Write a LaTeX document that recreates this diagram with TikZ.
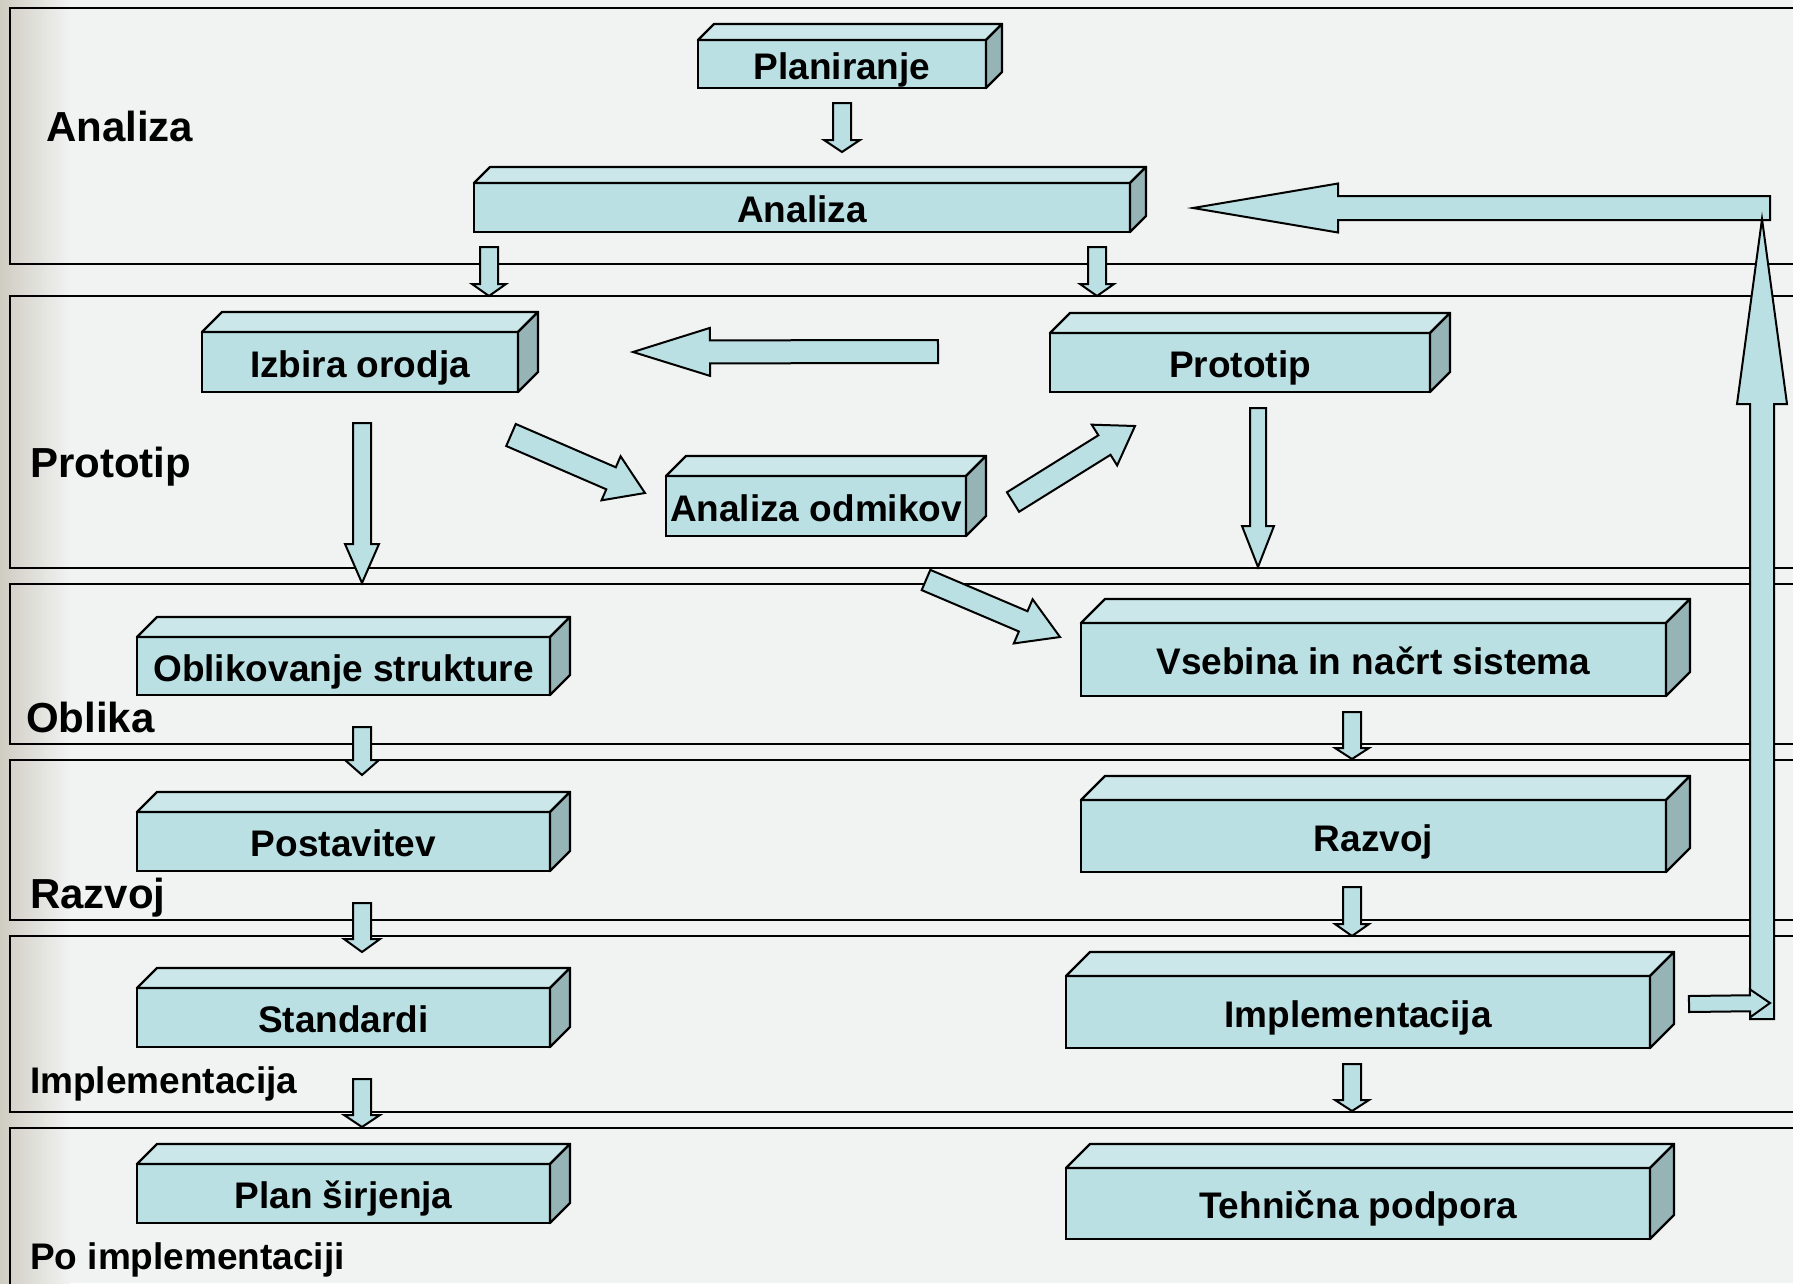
\documentclass[tikz,border=0pt]{standalone}
\usepackage{fontspec}
\setmainfont{Liberation Sans}
\usetikzlibrary{calc}

\definecolor{pagebg}{HTML}{F1F2F2}
\definecolor{stripbg}{HTML}{CFCCC2}
\definecolor{facefront}{HTML}{BAE0E3}
\definecolor{facetop}{HTML}{CBE7EA}
\definecolor{faceside}{HTML}{96B3B5}

\newcommand\boxfont{\fontsize{37}{44}\selectfont\bfseries}
\newcommand\lanefont{\fontsize{42}{50}\selectfont\bfseries}
\newcommand\subfont{\fontsize{37}{44}\selectfont\bfseries}

\tikzset{
  frontface/.style={draw=black, fill=facefront, line width=2.4pt, inner sep=0pt,
    outer sep=0pt, font=\boxfont, text=black, text height=30pt, text depth=0pt},
  topface/.style={draw=black, fill=facetop, line width=2.4pt, line join=round},
  sideface/.style={draw=black, fill=faceside, line width=2.4pt, line join=round},
  lane/.style={draw=black, line width=2.4pt},
  lanelabel/.style={anchor=base west, inner sep=0pt, font=\lanefont},
  sublabel/.style={anchor=base west, inner sep=0pt, font=\subfont},
  blockarrow/.style={draw=black, fill=facefront, line width=2pt, line join=miter},
}

% 3D box: name, centre x, centre y, width, height, depth, label
\newcommand\solidbox[7]{%
  \node[frontface, minimum width=#4pt, minimum height=#5pt] (#1) at (#2,#3) {#7};
  \filldraw[topface] (#1.north west) -- ++(#6,-#6) -- ($(#1.north east)+(#6,-#6)$)
    -- (#1.north east) -- cycle;
  \filldraw[sideface] (#1.north east) -- ($(#1.north east)+(#6,-#6)$)
    -- ($(#1.south east)+(#6,-#6)$) -- (#1.south east) -- cycle;
}

% block arrow: from, to, shaft half-width, head half-width, head length
\newcommand\blockarrow[5]{%
  \coordinate (hb) at ($(#2)!#5pt!(#1)$);
  \filldraw[blockarrow]
    ($(#1)!#3pt!90:(#2)$) -- ($(hb)!#3pt!90:(#2)$) -- ($(hb)!#4pt!90:(#2)$)
    -- (#2) -- ($(hb)!#4pt!-90:(#2)$) -- ($(hb)!#3pt!-90:(#2)$)
    -- ($(#1)!#3pt!-90:(#2)$) -- cycle;
}

\begin{document}
\begin{tikzpicture}[x=1pt, y=-1pt]
  \useasboundingbox (0,0) rectangle (1793,1283);
  \fill[pagebg] (0,0) rectangle (1793,1283);
  \shade[left color=stripbg, right color=pagebg] (0,0) rectangle (70,1283);

  % phase lanes
  \draw[lane] (10,8)    rectangle (1830,264);
  \draw[lane] (10,296)  rectangle (1830,568);
  \draw[lane] (10,584)  rectangle (1830,744);
  \draw[lane] (10,760)  rectangle (1830,920);
  \draw[lane] (10,936)  rectangle (1830,1112);
  \draw[lane] (10,1128) rectangle (1830,1330);

  % phase names
  \node[lanelabel] (lAnaliza)  at (46,141) {Analiza};
  \node[lanelabel] (lPrototip) at (30,477) {Prototip};
  \node[lanelabel] (lOblika)   at (26,732) {Oblika};
  \node[lanelabel] (lRazvoj)   at (30,908) {Razvoj};
  \node[sublabel]  (lImpl)     at (30,1093) {Implementacija};
  \node[sublabel]  (lPoImpl)   at (30,1269) {Po implementaciji};

  % activities
  \solidbox{plan}{842}{64}{288}{48}{16}{Planiranje}
  \solidbox{anal}{802}{207.5}{656}{49}{16}{Analiza}
  \solidbox{izbira}{360}{362}{316}{60}{20}{Izbira orodja}
  \solidbox{odmik}{816}{506}{300}{60}{20}{Analiza odmikov}
  \solidbox{proto}{1240}{362.5}{380}{59}{20}{Prototip}
  \solidbox{oblik}{343.5}{666}{413}{58}{20}{Oblikovanje strukture}
  \solidbox{vseb}{1373.5}{659.5}{585}{73}{24}{Vsebina in načrt sistema}
  \solidbox{postav}{343.5}{841.5}{413}{59}{20}{Postavitev}
  \solidbox{razvoj}{1373.5}{836}{585}{72}{24}{Razvoj}
  \solidbox{stand}{343.5}{1017.5}{413}{59}{20}{Standardi}
  \solidbox{impl}{1358}{1012}{584}{72}{24}{Implementacija}
  \solidbox{plansir}{343.5}{1193.5}{413}{59}{20}{Plan širjenja}
  \solidbox{tehn}{1358}{1203.5}{584}{71}{24}{Tehnična podpora}

  % arrow end points
  \coordinate (a1s) at (842,103);   \coordinate (a1t) at (842,152);
  \coordinate (a2s) at (489,247);   \coordinate (a2t) at (489,296);
  \coordinate (a3s) at (1097,247);  \coordinate (a3t) at (1097,296);
  \coordinate (a4s) at (362,423);   \coordinate (a4t) at (362,583);
  \coordinate (a5s) at (1258,408);  \coordinate (a5t) at (1258,567);
  \coordinate (a6s) at (362,727);   \coordinate (a6t) at (362,775);
  \coordinate (a7s) at (362,903);   \coordinate (a7t) at (362,952);
  \coordinate (a8s) at (362,1079);  \coordinate (a8t) at (362,1127);
  \coordinate (a9s) at (1352,712);  \coordinate (a9t) at (1352,759);
  \coordinate (a10s) at (1352,887); \coordinate (a10t) at (1352,936);
  \coordinate (a11s) at (1352,1064);\coordinate (a11t) at (1352,1111);
  \coordinate (a12s) at (938,351.5);\coordinate (a12t) at (633,352);
  \coordinate (a13s) at (511,435);  \coordinate (a13t) at (645,493);
  \coordinate (a14s) at (1013,502); \coordinate (a14t) at (1135,426);
  \coordinate (a15s) at (926,580);  \coordinate (a15t) at (1060,637);
  \coordinate (a16s) at (1689,1004);\coordinate (a16t) at (1770,1003);
  \coordinate (a17s) at (1762,1019);\coordinate (a17t) at (1762,219);
  \coordinate (a18s) at (1770,208); \coordinate (a18t) at (1193,208);

  % flow arrows
  \blockarrow{a1s}{a1t}{9}{18}{12}
  \blockarrow{a2s}{a2t}{9}{17}{12}
  \blockarrow{a3s}{a3t}{9}{17}{12}
  \blockarrow{a4s}{a4t}{9}{17}{39}
  \blockarrow{a5s}{a5t}{8}{16}{41}
  \blockarrow{a6s}{a6t}{9}{17}{15}
  \blockarrow{a7s}{a7t}{9}{18}{13}
  \blockarrow{a8s}{a8t}{9}{18}{12}
  \blockarrow{a9s}{a9t}{9}{17}{11}
  \blockarrow{a10s}{a10t}{9}{17}{12}
  \blockarrow{a11s}{a11t}{9}{17}{11}
  \blockarrow{a12s}{a12t}{11.5}{24}{77}
  \blockarrow{a13s}{a13t}{12}{24}{37}
  \blockarrow{a14s}{a14t}{11.5}{24}{36}
  \blockarrow{a15s}{a15t}{11}{24}{40}

  % feedback loop back to the analysis
  \blockarrow{a18s}{a18t}{12}{24.5}{145}
  \blockarrow{a17s}{a17t}{12}{25}{185}
  \blockarrow{a16s}{a16t}{8}{14}{20}
\end{tikzpicture}
\end{document}
